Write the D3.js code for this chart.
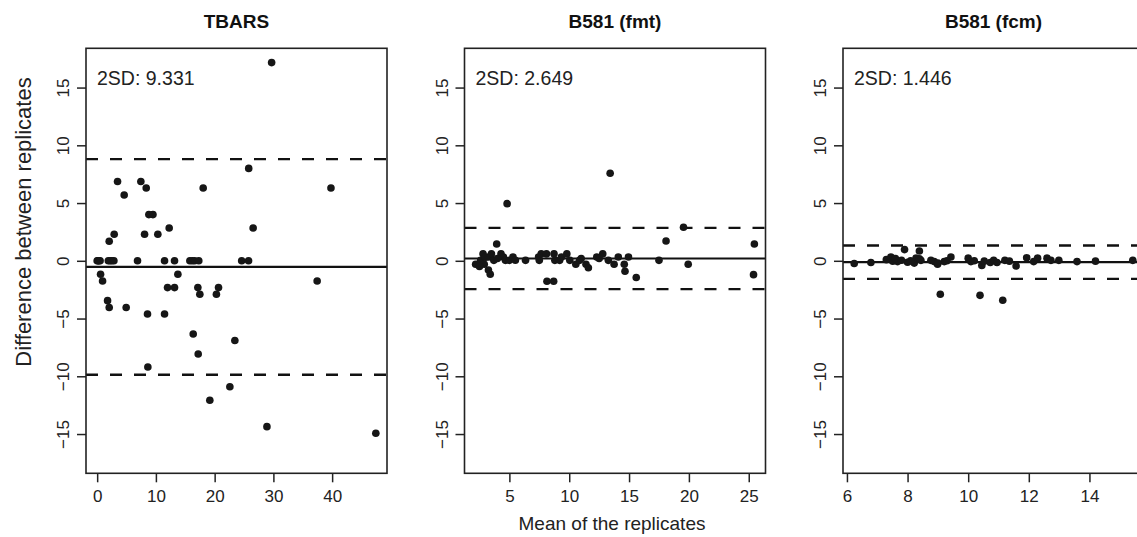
<!DOCTYPE html>
<html>
<head>
<meta charset="utf-8">
<script src="https://cdn.jsdelivr.net/npm/d3@7"></script>
<style>
  body { margin: 0; background: #fff; }
  svg { font-family: "Liberation Sans", Arial, sans-serif; }
</style>
</head>
<body>
<div id="chart"></div>
<script>
// Panel titles and the 2SD / mean difference of each method
const titles = ['TBARS', 'B581 (fmt)', 'B581 (fcm)'];
const sd2 = [9.331, 2.649, 1.446];
const bias = [-0.53, 0.2, -0.12];

// TBARS: mean of replicates vs difference
const tbarsMean = [0, 0.15, 0.3, 0.5, 1.9, 2.2, 2.5, 2.85, 6.87, 11.47, 13.17, 15.78, 16.2, 16.6, 17.3, 24.6, 25.77,
    29.7, 3.47, 7.44, 8.35, 4.6, 18.05, 25.8, 39.8, 8.8, 9.5, 2.05, 2.9, 8.07, 10.33, 12.26, 26.55,
    0.58, 0.92, 13.74, 11.98, 13.17, 17.14, 17.48, 20.3, 20.66, 37.45, 1.77, 2.05, 4.94, 8.57, 11.47,
    16.35, 23.44, 17.2, 8.63, 22.59, 19.18, 28.9, 47.44];
const tbarsDiff = [0, 0, 0, 0, 0, 0, 0, 0, 0, 0, 0, 0, 0, 0, 0, 0, 0,
    17.16, 6.86, 6.86, 6.3, 5.7, 6.3, 8.0, 6.3, 4.0, 4.0, 1.69, 2.3, 2.3, 2.3, 2.84, 2.84,
    -1.17, -1.75, -1.17, -2.32, -2.32, -2.32, -2.9, -2.9, -2.32, -1.75, -3.45, -4.05, -4.05, -4.6, -4.6,
    -6.34, -6.9, -8.07, -9.19, -10.9, -12.08, -14.36, -14.93];

// B581 (fmt)
const fmtMean = [13.42, 4.81, 19.55, 18.09, 25.47, 3.94, 25.4, 15.6, 8.14, 8.7, 2.18, 2.6, 2.8, 2.9, 3.25, 3.4,
    3.25, 3.5, 3.7, 4.3, 4.5, 4.67, 5.0, 5.3, 6.35, 7.44, 7.5, 7.66, 8.1, 8.73, 8.8, 9.2, 9.35, 9.8, 10.05,
    10.55, 10.87, 11.4, 11.6, 12.3, 12.8, 13.27, 13.75, 14.1, 14.6, 14.66, 14.95, 17.5, 19.94,
    2.5, 3.0, 4.0, 5.5, 11.0, 12.5];
const fmtDiff = [7.58, 4.95, 2.9, 1.72, 1.46, 1.46, -1.2, -1.45, -1.77, -1.77, -0.3, 0.04, 0.6, -0.3, -0.8, -1.17,
    0.33, 0.6, 0.04, 0.6, 0.33, 0.04, 0.04, 0.33, 0.04, 0.33, 0.04, 0.6, 0.6, 0.6, 0.04, 0.04, 0.33, 0.6, 0.04,
    -0.3, 0.04, -0.3, -0.6, 0.33, 0.6, 0.04, -0.3, 0.33, -0.3, -0.91, 0.33, 0.04, -0.3,
    -0.5, 0.3, 0.2, 0.05, 0.2, 0.2];

// B581 (fcm)
const fcmMean = [6.24, 6.79, 7.45, 7.51, 7.67, 7.9, 7.6, 8.0, 8.22, 8.28, 8.39, 8.39, 8.44, 8.77, 8.88, 8.99,
    9.21, 9.43, 9.08, 10.0, 10.09, 10.45, 10.53, 10.39, 10.73, 10.84, 10.95, 11.14, 11.21, 11.36, 11.58,
    11.93, 12.16, 12.29, 12.6, 12.73, 12.99, 13.59, 14.2, 15.43, 7.3, 7.8, 8.1, 9.0, 9.3, 10.2];
const fcmDiff = [-0.24, -0.15, 0.33, -0.03, -0.07, 0.97, 0.2, -0.12, -0.2, 0.23, 0.85, 0.17, 0.04, 0.04, -0.07, -0.3,
    -0.07, 0.33, -2.9, 0.23, -0.07, -0.4, -0.03, -2.99, -0.15, 0.04, -0.15, -3.42, 0.04, -0.03, -0.45,
    0.27, -0.07, 0.23, 0.23, 0.04, 0.04, -0.07, -0.03, 0.04, 0.1, 0.05, 0.0, -0.2, 0.0, 0.0];

const xDomains = [[-1.9, 49.34], [1.25, 26.4], [5.87, 15.8]];
const xTicks = [[0, 10, 20, 30, 40], [5, 10, 15, 20, 25], [6, 8, 10, 12, 14]];
const yTicks = [-15, -10, -5, 0, 5, 10, 15];

const means = [tbarsMean, fmtMean, fcmMean];
const diffs = [tbarsDiff, fmtDiff, fcmDiff];

const W = 1137, H = 537;
const lefts = [86, 464.5, 843];
const pw = 301, plotTop = 48.3, plotBottom = 473.3;

const svg = d3.select('#chart').append('svg')
    .attr('width', W)
    .attr('height', H);

const y = d3.scaleLinear().domain([-18.4, 18.4]).range([plotBottom, plotTop]);
const fmtNum = d => d < 0 ? '\u2212' + Math.abs(d) : String(d);

titles.forEach((title, i) => {
    const x = d3.scaleLinear().domain(xDomains[i]).range([lefts[i], lefts[i] + pw]);
    const g = svg.append('g');

    g.append('clipPath').attr('id', 'clip' + i)
        .append('rect')
        .attr('x', lefts[i]).attr('y', plotTop)
        .attr('width', pw).attr('height', plotBottom - plotTop);

    const plot = g.append('g').attr('clip-path', `url(#clip${i})`);

    // mean line and limits of agreement
    plot.append('line')
        .attr('x1', lefts[i]).attr('x2', lefts[i] + pw)
        .attr('y1', y(bias[i])).attr('y2', y(bias[i]))
        .attr('stroke', '#111').attr('stroke-width', 2.2);
    [bias[i] + sd2[i], bias[i] - sd2[i]].forEach(v => {
        plot.append('line')
            .attr('x1', lefts[i]).attr('x2', lefts[i] + pw)
            .attr('y1', y(v)).attr('y2', y(v))
            .attr('stroke', '#111').attr('stroke-width', 2.4)
            .attr('stroke-dasharray', '12,12');
    });

    // points
    plot.selectAll('circle')
        .data(means[i].map((m, k) => ({ m, d: diffs[i][k] })))
        .enter().append('circle')
        .attr('cx', d => x(d.m))
        .attr('cy', d => y(d.d))
        .attr('r', 3.8)
        .attr('fill', '#161616');

    // box
    g.append('rect')
        .attr('x', lefts[i]).attr('y', plotTop)
        .attr('width', pw).attr('height', plotBottom - plotTop)
        .attr('fill', 'none').attr('stroke', '#222').attr('stroke-width', 1.6);

    // y axis, labels rotated like R
    const ya = g.append('g')
        .attr('transform', `translate(${lefts[i]},0)`)
        .call(d3.axisLeft(y).tickValues(yTicks).tickSize(9).tickFormat(fmtNum));
    ya.select('.domain').remove();
    ya.selectAll('line').attr('stroke', '#222').attr('stroke-width', 1.5);
    ya.selectAll('text')
        .attr('x', null).attr('dy', null)
        .attr('transform', 'translate(-17,0) rotate(-90)')
        .attr('text-anchor', 'middle')
        .attr('fill', '#222')
        .style('font-size', '17px');

    // x axis
    const xa = g.append('g')
        .attr('transform', `translate(0,${plotBottom})`)
        .call(d3.axisBottom(x).tickValues(xTicks[i]).tickSize(9));
    xa.select('.domain').remove();
    xa.selectAll('line').attr('stroke', '#222').attr('stroke-width', 1.5);
    xa.selectAll('text')
        .attr('y', 17)
        .attr('fill', '#222')
        .style('font-size', '17px');

    // title
    g.append('text')
        .attr('x', lefts[i] + pw / 2).attr('y', 28)
        .attr('text-anchor', 'middle')
        .style('font-size', '19px').style('font-weight', 'bold')
        .attr('fill', '#111')
        .text(title);

    // 2SD annotation
    g.append('text')
        .attr('x', lefts[i] + 11).attr('y', 85)
        .style('font-size', '19.5px')
        .attr('fill', '#222')
        .text('2SD: ' + sd2[i].toFixed(3));
});

// axis titles
svg.append('text')
    .attr('x', 612).attr('y', 530)
    .attr('text-anchor', 'middle')
    .style('font-size', '19px')
    .attr('fill', '#222')
    .text('Mean of the replicates');

svg.append('text')
    .attr('transform', 'translate(31,222) rotate(-90)')
    .attr('text-anchor', 'middle')
    .style('font-size', '22px')
    .attr('fill', '#222')
    .text('Difference between replicates');
</script>
</body>
</html>
